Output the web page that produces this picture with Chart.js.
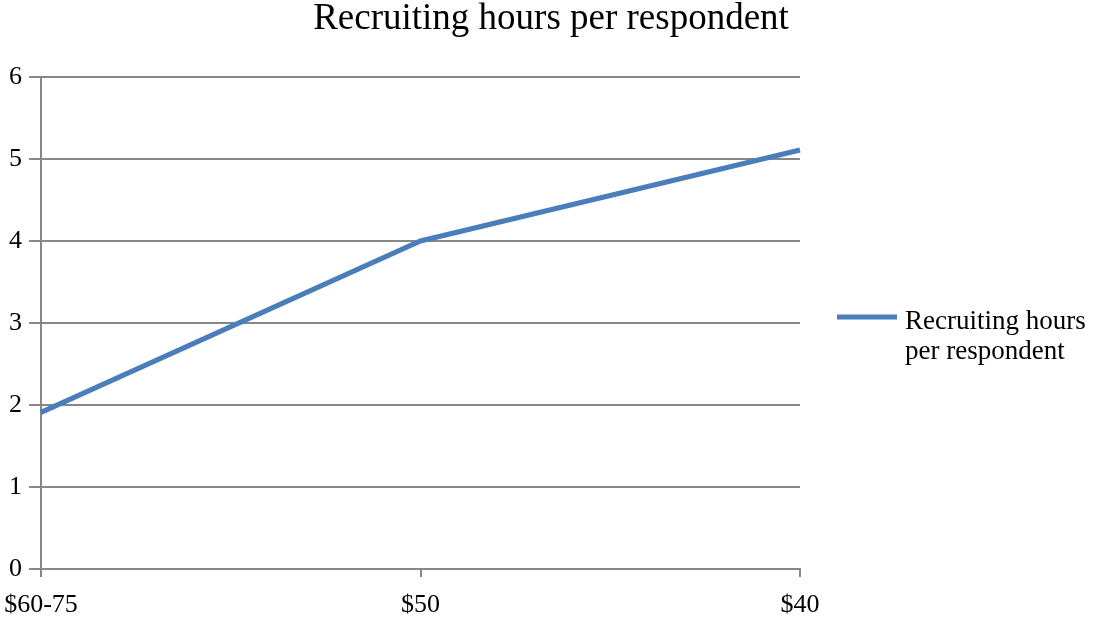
<!DOCTYPE html>
<html>
<head>
<meta charset="utf-8">
<script src="https://cdn.jsdelivr.net/npm/chart.js@4/dist/chart.umd.min.js"></script>
<style>
  html, body { margin: 0; padding: 0; background: #fff; }
  #wrap { width: 1093px; height: 617px; }
</style>
</head>
<body>
<div id="wrap"><canvas id="myLineChart"></canvas></div>
<script>
// Data
const categories = ['$60-75', '$50', '$40'];
const hoursPerRespondent = [1.91, 4.0, 5.11];
const seriesName = 'Recruiting hours per respondent';
const legendLines = ['Recruiting hours', 'per respondent'];

const fontFamily = '"Liberation Serif", "Times New Roman", serif';
const lineColor = '#4a7ebb';
const gridColor = '#878787';

// Title and legend are drawn by hand so they sit where the original has them
const titleAndLegend = {
    id: 'titleAndLegend',
    afterDraw(chart) {
        const ctx = chart.ctx;
        ctx.save();
        ctx.fillStyle = '#000';
        ctx.font = '37px ' + fontFamily;
        ctx.textAlign = 'center';
        ctx.textBaseline = 'alphabetic';
        ctx.fillText(seriesName, 551, 29);

        // legend
        ctx.strokeStyle = lineColor;
        ctx.lineWidth = 5;
        ctx.beginPath();
        ctx.moveTo(837, 317);
        ctx.lineTo(897, 317);
        ctx.stroke();
        ctx.font = '27px ' + fontFamily;
        ctx.textAlign = 'left';
        ctx.textBaseline = 'middle';
        legendLines.forEach((t, i) => ctx.fillText(t, 905, 322 + i * 30));
        ctx.restore();
    }
};

const ctx = document.getElementById('myLineChart').getContext('2d');
const myLineChart = new Chart(ctx, {
    type: 'line',
    data: {
        labels: categories,
        datasets: [{
            label: seriesName,
            data: hoursPerRespondent,
            borderColor: lineColor,
            borderWidth: 5,
            pointRadius: 0,
            tension: 0,
            fill: false
        }]
    },
    options: {
        responsive: true,
        maintainAspectRatio: false,
        animation: false,
        layout: {
            autoPadding: false,
            padding: { top: 77, right: 293, left: 0, bottom: 0 }
        },
        plugins: {
            legend: { display: false },
            title: { display: false },
            tooltip: { enabled: false }
        },
        scales: {
            x: {
                offset: false,
                grid: {
                    drawOnChartArea: false,
                    drawTicks: true,
                    tickLength: 8,
                    color: gridColor,
                    lineWidth: 2
                },
                border: { display: true, color: gridColor, width: 2 },
                ticks: {
                    color: '#000',
                    font: { family: fontFamily, size: 26 },
                    padding: 13,
                    maxRotation: 0
                },
                afterFit(scale) {
                    scale.height = 48;
                    // first label may hang past the left edge, like the original
                    scale.paddingLeft = 0;
                }
            },
            y: {
                min: 0,
                max: 6,
                ticks: {
                    stepSize: 1,
                    color: '#000',
                    font: { family: fontFamily, size: 26 },
                    padding: 7
                },
                grid: {
                    color: gridColor,
                    lineWidth: 2,
                    tickLength: 12
                },
                border: { display: true, color: gridColor, width: 2 },
                afterFit(scale) { scale.width = 41; }
            }
        }
    },
    plugins: [titleAndLegend]
});
</script>
</body>
</html>
